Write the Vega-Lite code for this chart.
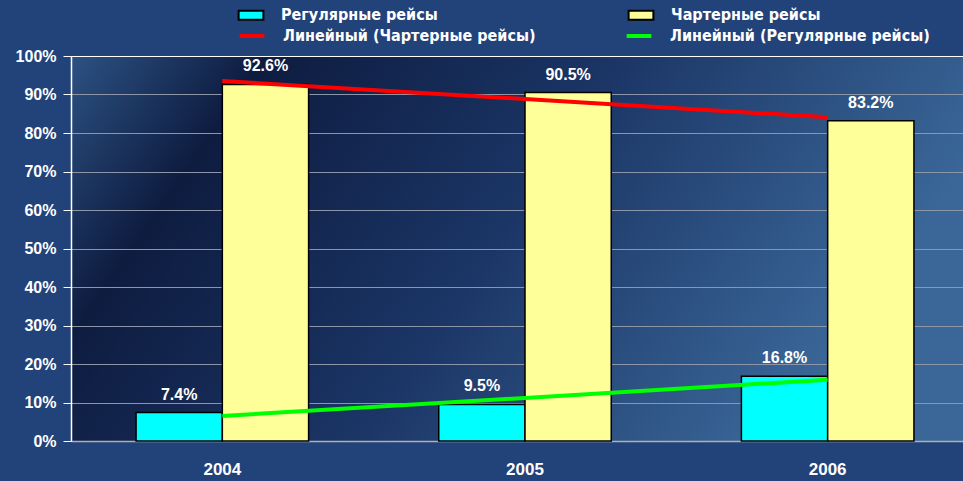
{
  "$schema": "https://vega.github.io/schema/vega-lite/v6.json",
  "width": 892,
  "height": 385,
  "autosize": {"type": "none"},
  "padding": {"left": 71, "top": 56, "right": 0, "bottom": 40},
  "background": "#22427a",
  "config": {
    "view": {
      "stroke": null,
      "fill": {
        "gradient": "linear", "x1": 0, "y1": 0, "x2": 1, "y2": 0.3,
        "stops": [
          {"offset": 0, "color": "#2c5283"},
          {"offset": 0.2, "color": "#0e1c40"},
          {"offset": 0.55, "color": "#1a3464"},
          {"offset": 1, "color": "#3a6798"}
        ]
      }
    },
    "font": "Liberation Sans"
  },
  "datasets": {
    "bars": [
      {"year": "2004", "series": "Регулярные рейсы", "value": 7.4, "label": "7.4%"},
      {"year": "2004", "series": "Чартерные рейсы", "value": 92.6, "label": "92.6%"},
      {"year": "2005", "series": "Регулярные рейсы", "value": 9.5, "label": "9.5%"},
      {"year": "2005", "series": "Чартерные рейсы", "value": 90.5, "label": "90.5%"},
      {"year": "2006", "series": "Регулярные рейсы", "value": 16.8, "label": "16.8%"},
      {"year": "2006", "series": "Чартерные рейсы", "value": 83.2, "label": "83.2%"}
    ],
    "trend": [
      {"year": "2004", "series": "Линейный (Чартерные рейсы)", "value": 93.5},
      {"year": "2005", "series": "Линейный (Чартерные рейсы)", "value": 88.8},
      {"year": "2006", "series": "Линейный (Чартерные рейсы)", "value": 84.1},
      {"year": "2004", "series": "Линейный (Регулярные рейсы)", "value": 6.5},
      {"year": "2005", "series": "Линейный (Регулярные рейсы)", "value": 11.2},
      {"year": "2006", "series": "Линейный (Регулярные рейсы)", "value": 15.9}
    ]
  },
  "encoding": {
    "x": {
      "field": "year", "type": "nominal",
      "scale": {"paddingInner": 0.43, "paddingOuter": 0.215, "range": [0, 908]},
      "axis": {
        "title": null, "labelAngle": 0, "labelColor": "#ffffff", "labelFontSize": 17,
        "labelFontWeight": "bold", "labelPadding": 20, "ticks": false,
        "domainColor": "#b0b0b0", "domainWidth": 1.5
      }
    },
    "y": {
      "field": "value", "type": "quantitative",
      "scale": {"domain": [0, 100], "nice": false},
      "axis": {
        "title": null, "values": [0, 10, 20, 30, 40, 50, 60, 70, 80, 90, 100],
        "labelOverlap": false,
        "labelExpr": "datum.value + '%'", "labelColor": "#ffffff", "labelFontSize": 16,
        "labelFontWeight": "bold", "labelPadding": 7, "tickColor": "#ffffff", "tickSize": 8,
        "domainColor": "#ffffff", "domainWidth": 1.5,
        "grid": true,
        "gridColor": {"condition": {"test": "datum.value === 100", "value": "#ffffff"}, "value": "#8c96a8"},
        "gridWidth": 1.2
      }
    }
  },
  "layer": [
    {
      "data": {"name": "bars"},
      "mark": {"type": "bar", "stroke": "#000000", "strokeWidth": 1.5},
      "encoding": {
        "xOffset": {"field": "series", "type": "nominal", "sort": ["Регулярные рейсы", "Чартерные рейсы"], "scale": {"paddingInner": 0, "paddingOuter": 0}},
        "fill": {
          "field": "series", "type": "nominal",
          "scale": {"domain": ["Регулярные рейсы", "Чартерные рейсы"], "range": ["#00ffff", "#ffff99"]},
          "legend": {
            "title": null, "orient": "none", "legendX": 170, "legendY": -51, "columns": 2,
            "columnPadding": 186, "padding": 0, "labelLimit": 500,
            "symbolType": "M-1.375,-0.5H1.375V0.5H-1.375Z", "symbolSize": 324,
            "symbolStrokeColor": "#000000", "symbolStrokeWidth": 2,
            "labelColor": "#ffffff", "labelFont": "DejaVu Sans Condensed",
            "labelFontSize": 16, "labelFontWeight": "bold", "labelOffset": 20
          }
        }
      }
    },
    {
      "data": {"name": "bars"},
      "mark": {"type": "text", "baseline": "bottom", "dy": -10, "color": "#ffffff", "fontSize": 16, "fontWeight": "bold"},
      "encoding": {
        "xOffset": {"field": "series", "type": "nominal", "sort": ["Регулярные рейсы", "Чартерные рейсы"]},
        "text": {"field": "label", "type": "nominal"}
      }
    },
    {
      "data": {"name": "trend"},
      "mark": {"type": "line", "strokeWidth": 4},
      "encoding": {
        "detail": {"field": "series"},
        "stroke": {
          "field": "series", "type": "nominal",
          "scale": {"domain": ["Линейный (Чартерные рейсы)", "Линейный (Регулярные рейсы)"], "range": ["#ff0000", "#00ff00"]},
          "legend": {
            "title": null, "orient": "none", "legendX": 170, "legendY": -31, "columns": 2,
            "columnPadding": 82, "padding": 0, "labelLimit": 500,
            "symbolType": "M-1.375,0H1.375", "symbolSize": 324, "symbolStrokeWidth": 4,
            "labelColor": "#ffffff", "labelFont": "DejaVu Sans Condensed",
            "labelFontSize": 16, "labelFontWeight": "bold", "labelOffset": 20
          }
        }
      }
    }
  ]
}
